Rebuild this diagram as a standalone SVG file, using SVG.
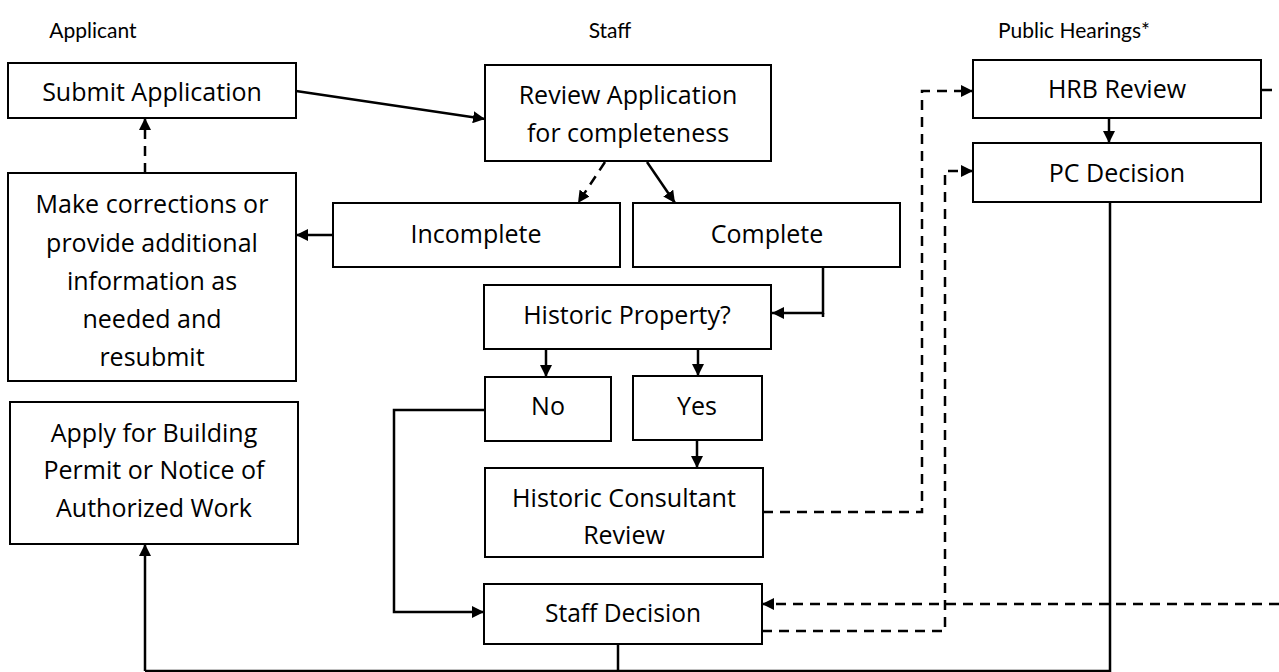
<svg xmlns="http://www.w3.org/2000/svg" width="1279" height="672" viewBox="0 0 1279 672">
<defs>
<marker id="ah" markerUnits="userSpaceOnUse" markerWidth="13" markerHeight="12" refX="12" refY="6" orient="auto">
<path d="M0,0 L12,6 L0,12 z" fill="#000"/>
</marker>
<style>
.box{fill:#fff;stroke:#000;stroke-width:2}
.t{font-family:"Open Sans","Liberation Sans",sans-serif;font-size:25px;fill:#000;text-anchor:middle}
.h{font-family:Lato,"Liberation Sans",sans-serif;font-size:21px;fill:#000;text-anchor:middle}
.c{fill:none;stroke:#000;stroke-width:2.5}
.d{fill:none;stroke:#000;stroke-width:2.5;stroke-dasharray:10 7}
.a{marker-end:url(#ah)}
</style>
</defs>
<rect width="1279" height="672" fill="#fff"/>
<g id="titles">
<text class="h" x="93" y="38">Applicant</text>
<text class="h" x="610" y="38">Staff</text>
<text class="h" x="1074" y="38">Public Hearings*</text>
</g>
<g id="connectors">
<line class="c a" x1="296" y1="91" x2="485" y2="119"/>
<line class="d a" x1="605" y1="162" x2="578" y2="203"/>
<line class="c a" x1="647" y1="162" x2="675" y2="203"/>
<line class="c a" x1="333" y1="235" x2="296" y2="235"/>
<line class="d a" x1="145" y1="173" x2="145" y2="118"/>
<polyline class="c a" points="823,267 823,313 772,313"/>
<line class="c" x1="823" y1="313" x2="823" y2="317"/>
<line class="c a" x1="546" y1="349" x2="546" y2="377"/>
<line class="c a" x1="698" y1="346" x2="698" y2="376"/>
<polyline class="c a" points="485,410 394,410 394,612 484,612"/>
<line class="c a" x1="697" y1="440" x2="697" y2="468"/>
<polyline class="d a" points="763,512 922,512 922,91 973,91"/>
<polyline class="d a" points="762,631 945,631 945,171 973,171"/>
<line class="c a" x1="1109" y1="118" x2="1109" y2="143"/>
<line class="c" x1="1261" y1="90" x2="1272" y2="90"/>
<line class="d a" x1="1279" y1="604" x2="762" y2="604"/>
<polyline class="c" points="1110,202 1110,671 145,671"/>
<line class="c" x1="618" y1="644" x2="618" y2="671"/>
<line class="c a" x1="145" y1="671" x2="145" y2="544"/>
</g>
<g id="submit">
<rect class="box" x="8" y="63" width="288" height="55"/>
<text class="t" x="152" y="101">Submit Application</text>
</g>
<g id="corrections">
<rect class="box" x="8" y="173" width="288" height="208"/>
<text class="t" x="152" y="213">Make corrections or</text>
<text class="t" x="152" y="252">provide additional</text>
<text class="t" x="152" y="290">information as</text>
<text class="t" x="152" y="328">needed and</text>
<text class="t" x="152" y="366">resubmit</text>
</g>
<g id="apply">
<rect class="box" x="10" y="402" width="288" height="142"/>
<text class="t" x="154" y="442">Apply for Building</text>
<text class="t" x="154" y="479">Permit or Notice of</text>
<text class="t" x="154" y="517">Authorized Work</text>
</g>
<g id="review">
<rect class="box" x="485" y="65" width="286" height="96"/>
<text class="t" x="628" y="104">Review Application</text>
<text class="t" x="628" y="142">for completeness</text>
</g>
<g id="incomplete">
<rect class="box" x="333" y="203" width="287" height="64"/>
<text class="t" x="476" y="243">Incomplete</text>
</g>
<g id="complete">
<rect class="box" x="633" y="203" width="267" height="64"/>
<text class="t" x="767" y="243">Complete</text>
</g>
<g id="historic">
<rect class="box" x="484" y="285" width="287" height="64"/>
<text class="t" x="627" y="324">Historic Property?</text>
</g>
<g id="no">
<rect class="box" x="485" y="377" width="126" height="64"/>
<text class="t" x="548" y="415">No</text>
</g>
<g id="yes">
<rect class="box" x="633" y="376" width="129" height="64"/>
<text class="t" x="697" y="415">Yes</text>
</g>
<g id="consultant">
<rect class="box" x="485" y="468" width="278" height="89"/>
<text class="t" x="624" y="507" textLength="224" lengthAdjust="spacingAndGlyphs">Historic Consultant</text>
<text class="t" x="624" y="544">Review</text>
</g>
<g id="staffdecision">
<rect class="box" x="484" y="584" width="278" height="60"/>
<text class="t" x="623" y="622" textLength="156" lengthAdjust="spacingAndGlyphs">Staff Decision</text>
</g>
<g id="hrb">
<rect class="box" x="973" y="60" width="288" height="58"/>
<text class="t" x="1117" y="98">HRB Review</text>
</g>
<g id="pc">
<rect class="box" x="973" y="143" width="288" height="59"/>
<text class="t" x="1117" y="182">PC Decision</text>
</g>
</svg>
